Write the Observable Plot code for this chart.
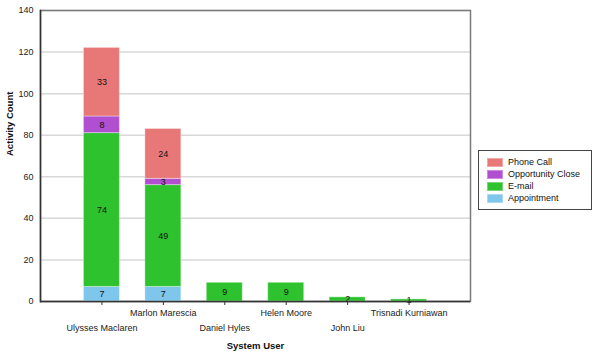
<!DOCTYPE html>
<html>
<head>
<meta charset="utf-8">
<script src="https://cdn.jsdelivr.net/npm/d3@7"></script>
<script src="https://cdn.jsdelivr.net/npm/@observablehq/plot@0.6"></script>
<style>
  html, body { margin: 0; padding: 0; background: #fff; }
  #wrap { position: relative; width: 600px; height: 357px; font-family: "Liberation Sans", Arial, sans-serif; }
  #legend { position: absolute; left: 478px; top: 150px; width: 114px; height: 60px; border: 1px solid #444; box-sizing: border-box; padding: 5px 0 0 8px; font-size: 9px; color: #111; }
  .item { display: flex; align-items: center; height: 12px; }
  .sw { width: 16px; height: 9px; margin-right: 5px; box-sizing: border-box; border: 1px solid rgba(255,255,255,0.35); }
</style>
</head>
<body>
<div id="wrap"><div id="legend"></div></div>
<script>
const users = ["Ulysses Maclaren", "Marlon Marescia", "Daniel Hyles", "Helen Moore", "John Liu", "Trisnadi Kurniawan"];
const series = ["Appointment", "E-mail", "Opportunity Close", "Phone Call"]; // bottom to top
const colors = ["#7ec6ec", "#2fc22f", "#b04fcf", "#e87878"];
const appointment = [7, 7, 0, 0, 0, 0];
const email = [74, 49, 9, 9, 2, 1];
const opportunityClose = [8, 3, 0, 0, 0, 0];
const phoneCall = [33, 24, 0, 0, 0, 0];
const yTicks = [0, 20, 40, 60, 80, 100, 120, 140];
const legendOrder = ["Phone Call", "Opportunity Close", "E-mail", "Appointment"];
const xTitle = "System User";
const yTitle = "Activity Count";

const valuesBySeries = [appointment, email, opportunityClose, phoneCall];
const rows = [];
series.forEach((s, si) => users.forEach((u, ui) => {
  const v = valuesBySeries[si][ui];
  if (v > 0) rows.push({user: u, series: s, value: v});
}));

const chart = Plot.plot({
  width: 600,
  height: 357,
  marginLeft: 40,
  marginRight: 130,
  marginTop: 10,
  marginBottom: 56,
  style: {fontFamily: "Liberation Sans, Arial, sans-serif", fontSize: "9px", color: "#222", background: "transparent"},
  x: {domain: users, paddingInner: 0.414, paddingOuter: 0.707, round: false, label: null},
  y: {domain: [0, 140], label: null},
  color: {domain: series, range: colors},
  marks: [
    Plot.gridY(yTicks, {stroke: "#d8d8d8", strokeOpacity: 1, strokeWidth: 1.5}),
    Plot.frame({stroke: "#7a7a7a", strokeWidth: 1.5}),
    Plot.barY(rows, {x: "user", y: "value", fill: "series", z: "series", order: series, stroke: "#ffffff", strokeOpacity: 0.35, strokeWidth: 1}),
    Plot.text(rows, Plot.stackY({x: "user", y: "value", z: "series", order: series, text: "value", fill: "#111", fontSize: 9})),
    Plot.axisY({ticks: yTicks, tickSize: 0, tickPadding: 7, label: null, fontSize: 9}),
    Plot.axisX({tickSize: 4, tickFormat: () => "", label: null, stroke: "#333"}),
    Plot.ruleY([0], {stroke: "#333", strokeWidth: 1.5}),
    Plot.frame({anchor: "left", stroke: "#333", strokeWidth: 1.5}),
    Plot.text(users, {x: d => d, y: 0, text: d => d, fill: "#222", fontSize: 9,
      filter: (d) => users.indexOf(d) % 2 === 1, lineAnchor: "top", dy: 8}),
    Plot.text(users, {x: d => d, y: 0, text: d => d, fill: "#222", fontSize: 9,
      filter: (d) => users.indexOf(d) % 2 === 0, lineAnchor: "top", dy: 23}),
    Plot.text([xTitle], {frameAnchor: "bottom", text: d => d, lineAnchor: "top", dy: 41, fontWeight: "bold", fontSize: 9.5, fill: "#111"}),
    Plot.text([yTitle], {frameAnchor: "left", text: d => d, rotate: -90, dx: -31, fontWeight: "bold", fontSize: 9.5, fill: "#111"})
  ]
});
document.getElementById("wrap").prepend(chart);
chart.style.position = "absolute";
chart.style.left = "0";
chart.style.top = "0";

const legend = document.getElementById("legend");
legendOrder.forEach(name => {
  const item = document.createElement("div");
  item.className = "item";
  const sw = document.createElement("div");
  sw.className = "sw";
  sw.style.background = colors[series.indexOf(name)];
  const t = document.createElement("span");
  t.textContent = name;
  item.append(sw, t);
  legend.append(item);
});
</script>
</body>
</html>
